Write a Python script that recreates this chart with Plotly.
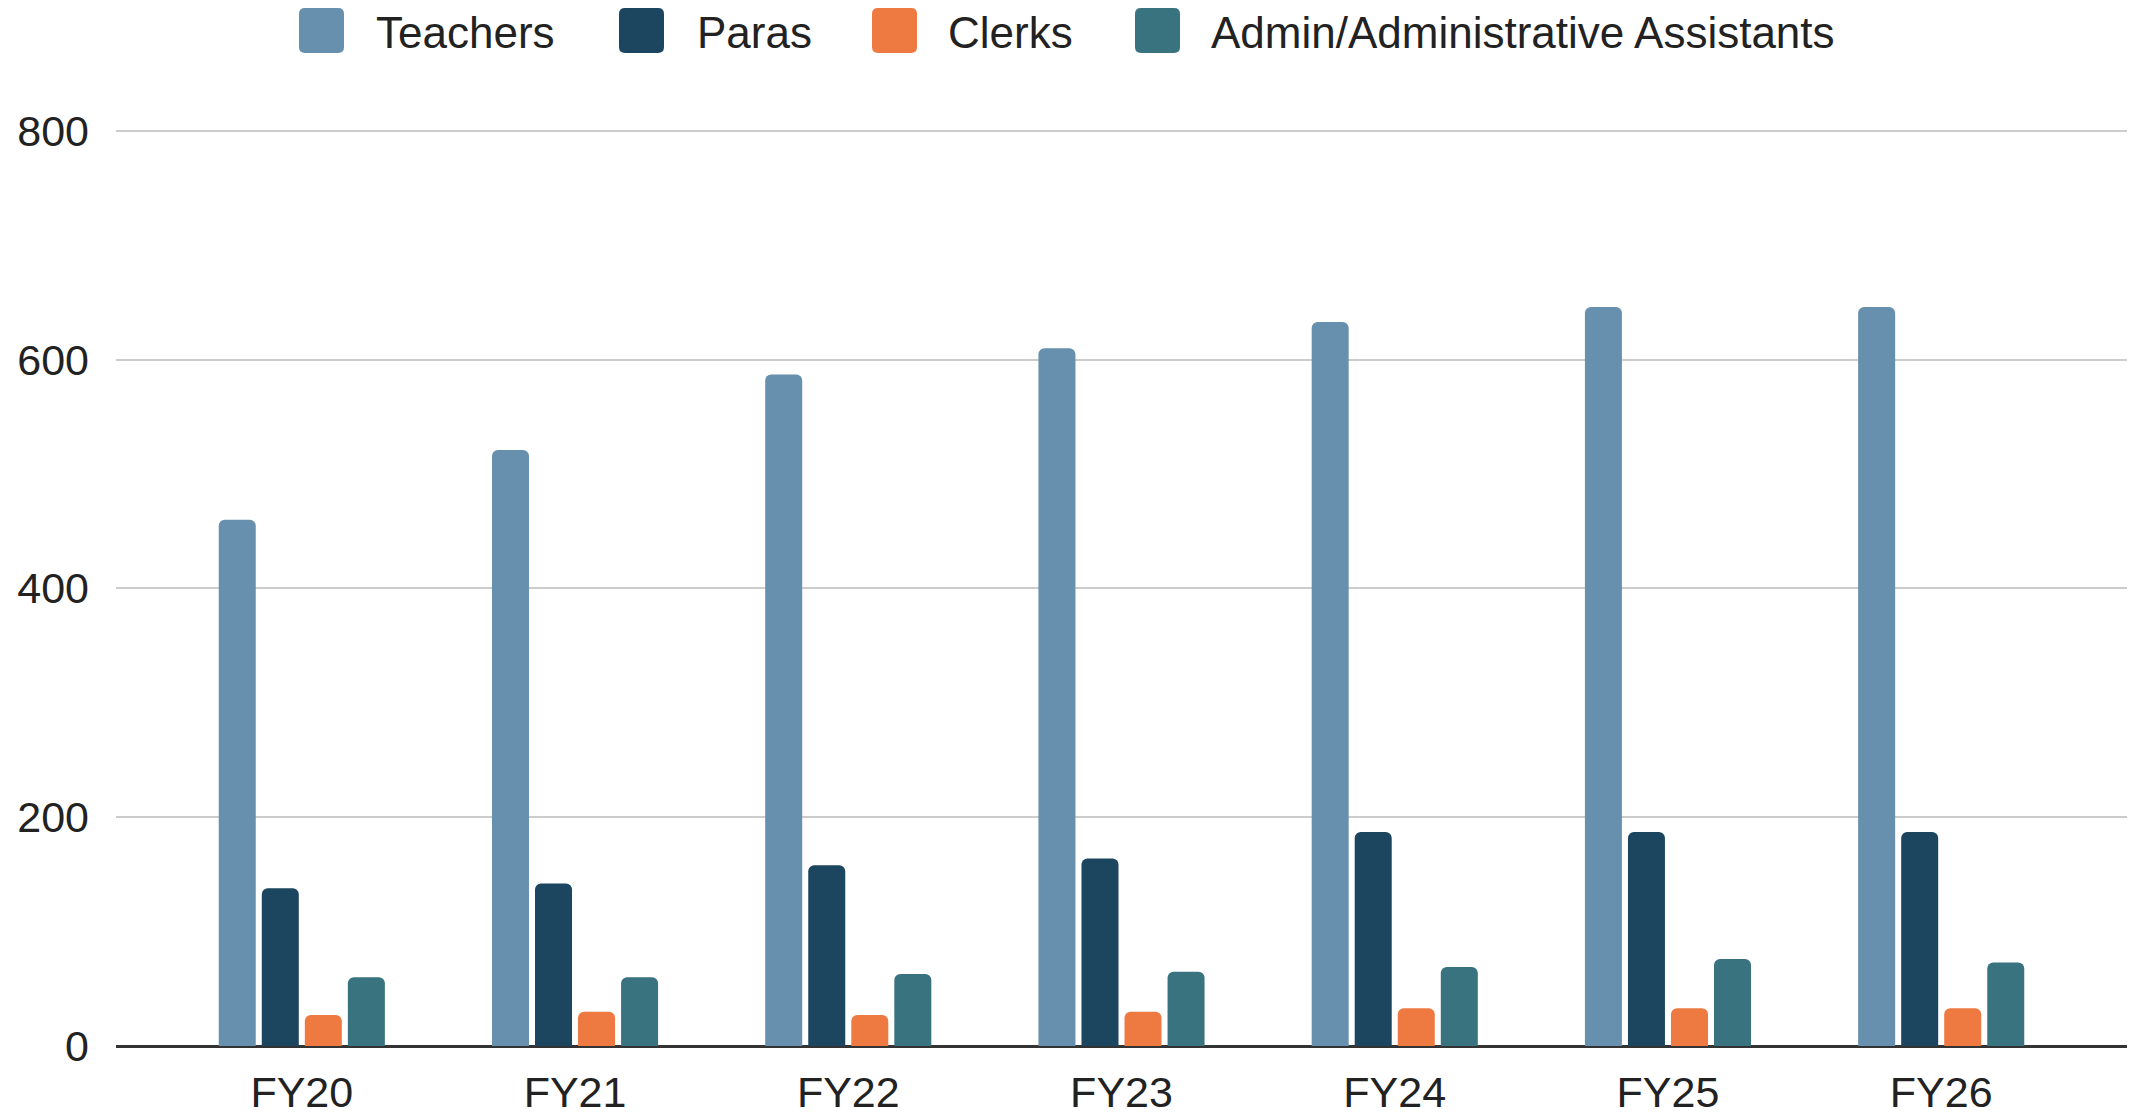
import re
import plotly.graph_objects as go

categories = ["FY20", "FY21", "FY22", "FY23", "FY24", "FY25", "FY26"]
teachers = [460, 521, 587, 610, 633, 646, 646]
paras = [138, 142, 158, 164, 187, 187, 187]
clerks = [27, 30, 27, 30, 33, 33, 33]
admin = [60, 60, 63, 65, 69, 76, 73]
series_names = ["Teachers", "Paras", "Clerks", "Admin/Administrative Assistants"]
series_values = [teachers, paras, clerks, admin]
series_colors = ["#6690ae", "#1c4660", "#ee7941", "#39737f"]
y_ticks = [0, 200, 400, 600, 800]

# page has an 8px body margin; figure coordinates below are page coords minus 8
W, H = 2128, 1107
YMAX = 806
ML, MR, MB = 108, 9, 69
TOP800 = 123
_unit = (H - MB - TOP800) / 800.0
MT = int(round(TOP800 - (YMAX - 800) * _unit))
FONT = "Liberation Sans, Arial, sans-serif"
FS = 43
FSL = 44

fig = go.Figure()
for name, vals, col in zip(series_names, series_values, series_colors):
    fig.add_trace(go.Bar(x=list(range(len(categories))), y=vals, name=name,
                         marker=dict(color=col, line=dict(width=0), cornerradius=6),
                         showlegend=False))

# custom legend (large rounded swatches like the reference)
pw, ph = W - ML - MR, H - MT - MB
def px_x(p):
    return (p - ML) / pw
def px_y(p):
    return (H - MB - p) / ph

sym_left = [291, 611, 864, 1127]
txt_left = [367, 688, 939, 1202]
shapes = []
annotations = []
for i, (name, col) in enumerate(zip(series_names, series_colors)):
    x0, x1 = sym_left[i], sym_left[i] + 45
    y0, y1 = 0, 45
    r = 6
    path = (f"M{x0+r},{y0} L{x1-r},{y0} Q{x1},{y0} {x1},{y0+r} L{x1},{y1-r} Q{x1},{y1} {x1-r},{y1} "
            f"L{x0+r},{y1} Q{x0},{y1} {x0},{y1-r} L{x0},{y0+r} Q{x0},{y0} {x0+r},{y0} Z")
    def conv(m):
        a, b = float(m.group(1)), float(m.group(2))
        return f"{px_x(a):.6f},{px_y(b):.6f}"
    ppath = re.sub(r"(-?\d+\.?\d*),(-?\d+\.?\d*)", conv, path)
    shapes.append(dict(type="path", xref="paper", yref="paper", path=ppath,
                       fillcolor=col, line=dict(width=0), layer="above"))
    annotations.append(dict(x=px_x(txt_left[i]), y=px_y(24), xref="paper", yref="paper",
                            text=name, showarrow=False, xanchor="left", yanchor="middle",
                            borderpad=0,
                            font=dict(family=FONT, size=FSL, color="#222222")))

fig.update_layout(
    width=W, height=H,
    margin=dict(l=ML, r=MR, t=MT, b=MB, pad=0, autoexpand=False),
    paper_bgcolor="white", plot_bgcolor="white",
    barmode="group", bargap=0.37, bargroupgap=0.14,
    font=dict(family=FONT, size=FS, color="#222222"),
    shapes=shapes, annotations=annotations,
    showlegend=False,
)
fig.update_xaxes(range=[-0.68, len(categories) - 1 + 0.68], automargin=False,
                 tickmode="array", tickvals=list(range(len(categories))), ticktext=categories,
                 showgrid=False, zeroline=False, showline=False, ticks="",
                 ticklabelstandoff=17,
                 tickfont=dict(family=FONT, size=FS, color="#222222"))
fig.update_yaxes(range=[0, YMAX], tickvals=y_ticks, showgrid=True, gridcolor="#cccccc", gridwidth=2,
                 zeroline=True, zerolinecolor="#333333", zerolinewidth=3, automargin=False,
                 ticks="", ticklabelstandoff=26, showline=False,
                 tickfont=dict(family=FONT, size=FS, color="#222222"))

fig.write_html("out.html")
